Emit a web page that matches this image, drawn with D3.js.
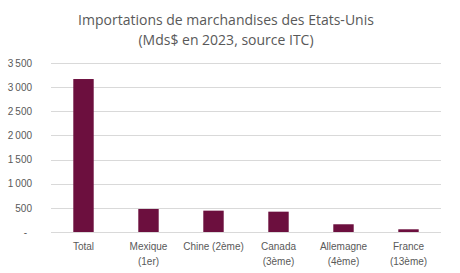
<!DOCTYPE html>
<html>
<head>
<meta charset="utf-8">
<script src="https://cdn.jsdelivr.net/npm/d3@7"></script>
<style>
    body { margin: 0; background: #fff; }
    svg { display: block; font-family: "Open Sans", "Liberation Sans", sans-serif; }
    .title { fill: #595959; font-size: 14px; }
    .axis text { fill: #595959; font-size: 10px; }
    .grid line { stroke: #d9d9d9; stroke-width: 1; }
</style>
</head>
<body>
<div id="chart"></div>
<script>
const categories = ['Total', 'Mexique (1er)', 'Chine (2ème)', 'Canada (3ème)', 'Allemagne (4ème)', 'France (13ème)'];
const labelLines = [['Total'], ['Mexique', '(1er)'], ['Chine (2ème)'], ['Canada', '(3ème)'], ['Allemagne', '(4ème)'], ['France', '(13ème)']];
const imports = [3168, 477, 442, 421, 160, 56];
const yTicks = [0, 500, 1000, 1500, 2000, 2500, 3000, 3500];
const titleLines = ['Importations de marchandises des Etats-Unis', '(Mds$ en 2023, source ITC)'];

const width = 460;
const height = 273;
const margin = { top: 63, right: 19, bottom: 41, left: 51 };

const svg = d3.select('#chart')
    .append('svg')
    .attr('width', width)
    .attr('height', height);

const x = d3.scaleBand()
    .domain(categories)
    .range([margin.left, width - margin.right])
    .paddingInner(0.686)
    .paddingOuter(0.343);

const y = d3.scaleLinear()
    .domain([0, 3500])
    .range([height - margin.bottom, margin.top]);

// gridlines
svg.append('g')
    .attr('class', 'grid')
    .selectAll('line')
    .data(yTicks)
    .join('line')
    .attr('x1', margin.left)
    .attr('x2', width - margin.right)
    .attr('y1', d => Math.round(y(d)) + 0.5)
    .attr('y2', d => Math.round(y(d)) + 0.5);

// y axis labels
const fmt = d => d === 0 ? '-' : d3.format(',')(d).replace(',', '\u202F');
svg.append('g')
    .attr('class', 'axis')
    .attr('transform', `translate(${margin.left - 19},0)`)
    .call(d3.axisLeft(y).tickValues(yTicks).tickSize(0).tickPadding(0).tickFormat(fmt))
    .call(g => g.select('.domain').remove())
    .call(g => g.selectAll('text').attr('dx', d => d === 0 ? -5 : 0));

// bars
svg.append('g')
    .selectAll('rect')
    .data(imports)
    .join('rect')
    .attr('x', (d, i) => x(categories[i]))
    .attr('y', d => y(d))
    .attr('width', x.bandwidth())
    .attr('height', d => y(0) - y(d))
    .attr('fill', '#6c0f3e');

// x axis labels
const xAxis = svg.append('g')
    .attr('class', 'axis')
    .attr('transform', `translate(0,${height - margin.bottom})`)
    .call(d3.axisBottom(x).tickSize(0).tickFormat(''))
    .call(g => g.select('.domain').remove());

xAxis.selectAll('.tick')
    .each(function (d, i) {
        const text = d3.select(this).append('text')
            .attr('fill', '#595959')
            .attr('text-anchor', 'middle')
            .attr('y', 18);
        labelLines[i].forEach((line, j) => {
            text.append('tspan')
                .attr('x', 0)
                .attr('dy', j === 0 ? 0 : 15)
                .text(line);
        });
    });

// title
svg.append('text')
    .attr('class', 'title')
    .attr('text-anchor', 'middle')
    .selectAll('tspan')
    .data(titleLines)
    .join('tspan')
    .attr('x', 226)
    .attr('y', (d, i) => 25 + i * 20)
    .text(d => d);
</script>
</body>
</html>
